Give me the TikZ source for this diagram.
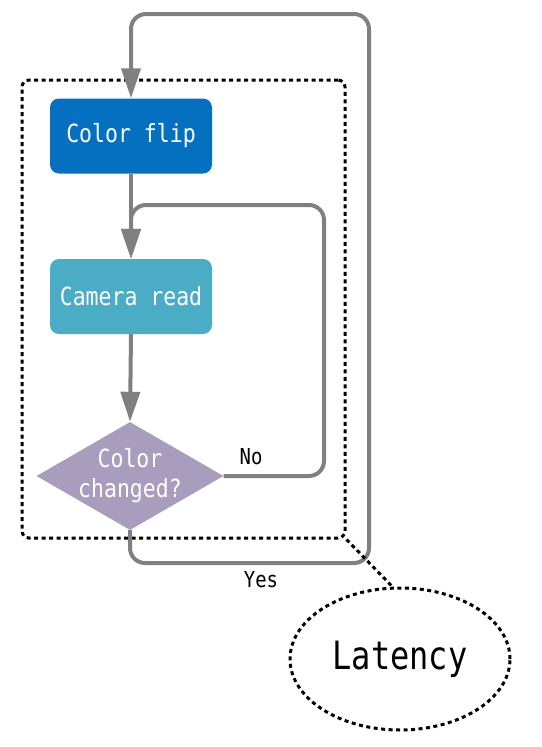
\documentclass[tikz,border=0pt]{standalone}
\usepackage{fontspec}
\newfontfamily\monof[FakeStretch=0.86]{DejaVu Sans Mono}
\newfontfamily\monol[FakeStretch=0.82]{DejaVu Sans Mono}
\usetikzlibrary{shapes.geometric,arrows.meta}
\definecolor{flipblue}{HTML}{0570C0}
\definecolor{camteal}{HTML}{4BACC6}
\definecolor{diapurple}{HTML}{A99DBD}
\definecolor{flowgrey}{HTML}{808080}
\begin{document}
\begin{tikzpicture}[x=1pt,y=-1pt,
  procbox/.style={rectangle,rounded corners=9pt,minimum width=162pt,minimum height=75pt,inner sep=0pt,text=white,font=\monof\fontsize{25}{30}\selectfont},
  flow/.style={draw=flowgrey,line width=4pt,rounded corners=15pt,-{Triangle[length=30pt,width=19pt]}},
  dashline/.style={draw=black,line width=3pt,dash pattern=on 4pt off 3.5pt},
  grpbox/.style={dashline,rounded corners=7pt,minimum width=323pt,minimum height=458pt,inner sep=0pt},
  lbl/.style={font=\monof\fontsize{22}{26}\selectfont,text=black}]
\useasboundingbox (0,0) rectangle (541,747);
\node[grpbox] (grp) at (183.5,309) {};
\node[procbox,fill=flipblue] (flip) at (131,136) {Color flip};
\node[procbox,fill=camteal] (cam) at (131,296.5) {Camera read};
\node[diamond,aspect=1.73,fill=diapurple,minimum width=187pt,minimum height=108pt,inner sep=0pt] (dia) at (130,476) {};
\node[text=white,align=center,inner sep=0pt,font=\monof\fontsize{25}{30}\selectfont] (diatext) at (dia.center) {Color\\changed?};
\draw[flow] (flip.south) -- (cam.north);
\draw[flow] (cam.south) -- (dia.north);
\draw[flow] (dia.east) -- (324,476) -- (324,205) -- (131,205) -- (cam.north);
\draw[flow] (dia.south) -- (130,563) -- (369,563) -- (369,14) -- (131,14) -- (flip.north);
\node[lbl] (no) at (251,457) {No};
\node[lbl] (yes) at (261,580) {Yes};
\node[ellipse,dashline,minimum width=220pt,minimum height=142pt,inner sep=0pt,font=\monol\fontsize{39}{46}\selectfont] (lat) at (400,659) {Latency};
\draw[dashline] (grp.south east) -- (lat.96);
\end{tikzpicture}
\end{document}
